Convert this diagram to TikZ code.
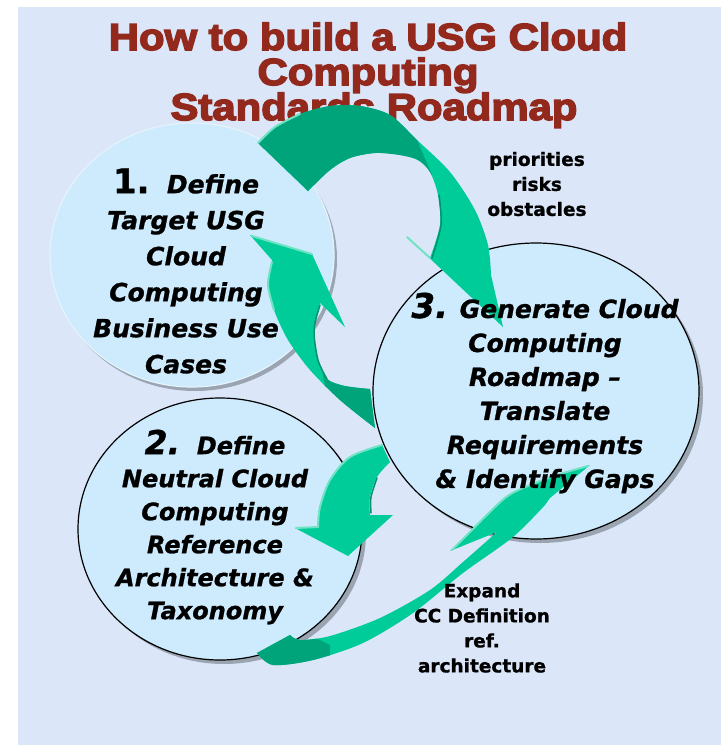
\documentclass[tikz,border=0pt]{standalone}
\usepackage{fontspec}
\setmainfont{DejaVu Sans}
\newfontfamily\stepfont[FakeBold=1]{DejaVu Sans}
\newfontfamily\titlefont[FakeStretch=1.11,FakeBold=4]{Liberation Sans}
\usetikzlibrary{shapes.geometric}

\definecolor{panel}{HTML}{DBE7F9}
\definecolor{titlered}{HTML}{93291D}
\definecolor{bubblefill}{HTML}{CDEBFC}
\definecolor{bubblerim}{HTML}{E4F3FD}
\definecolor{bubbleshade}{HTML}{9AA5B1}
\definecolor{greenlight}{HTML}{00CC99}
\definecolor{greendark}{HTML}{00A47A}
\definecolor{greenrim}{HTML}{6FE3C4}
\definecolor{greenedge}{HTML}{00936D}

\tikzset{
  bubble/.style={ellipse, fill=bubblefill, draw=black, line width=1.2pt, inner sep=0pt},
  bubbleshadow/.style={ellipse, fill=bubbleshade, inner sep=0pt},
  steptext/.style={align=center, inner sep=0pt},
  note/.style={align=center, inner sep=0pt, font=\stepfont\bfseries\fontsize{18.5}{25}\selectfont},
  titleline/.style={anchor=base, text=titlered, font=\titlefont\bfseries\fontsize{37.7}{35}\selectfont},
  swoosh/.style={fill=greenlight},
  swooshback/.style={fill=greendark},
  rim/.style={draw=greenrim, line width=2pt, line cap=round},
  crease/.style={draw=greenedge, line width=1.5pt, line cap=round},
}

% outlines of the four curved arrows (x right, y down)
\newcommand\outlineA{(258,143) -- plot[smooth] coordinates {(258,143) (275,127) (300,114) (330,106) (360,106) (390,115) (417,140) (450,172) (475,210) (488,245) (491,275)} -- (503,327) -- (407,237) -- (430,258) -- plot[smooth] coordinates {(430,258) (440,225) (438,195) (430,172) (418,160) (400,155) (375,153) (350,158) (330,170) (308,191)} -- cycle}
\newcommand\outlineB{(250,235) -- (312,254) -- (345,327) -- (320,303) -- plot[smooth] coordinates {(320,303) (314,330) (318,360) (327,379) (345,386) (370,389)} -- (375,428) -- plot[smooth] coordinates {(375,428) (340,400) (310,370) (288,340) (274,310) (268,285) (272,260)} -- cycle}
\newcommand\outlineC{(382,445) -- plot[smooth] coordinates {(382,445) (350,457) (330,480) (320,507) (318,527)} -- (295,528) -- (348,556) -- (393,515) -- (370,515) -- plot[smooth] coordinates {(370,515) (370,497) (377,477) (390,462)} -- cycle}
\newcommand\outlineD{(257,653) -- plot[smooth] coordinates {(257,653) (273,665) (313,660) (363,643) (413,613) (463,573) (513,537) (545,505)} -- (550,498) -- (590,465) -- plot[smooth] coordinates {(590,465) (560,474) (530,485) (505,498) (470,532)} -- (450,551) -- (497,532) -- plot[smooth] coordinates {(497,532) (463,562) (430,590) (380,618) (330,636) (300,640) (290,635)} -- cycle}

\begin{document}
\begin{tikzpicture}[x=1pt,y=-1pt]
  \useasboundingbox (0,0) rectangle (721,745);
  \fill[white] (0,0) rectangle (721,745);
  \fill[panel] (18,7) rectangle (721,745);

  % heading
  \node[titleline] (title1) at (368,50) {How to build a USG Cloud};
  \node[titleline] (title2) at (368,85) {Computing};
  \node[titleline] (title3) at (374,120) {Standards Roadmap};

  % the three steps
  \node[bubbleshadow, minimum width=284, minimum height=264] (step1shadow) at (195,259) {};
  \node[bubble, draw=bubblerim, minimum width=284, minimum height=264] (step1) at (192,255) {};
  \node[bubbleshadow, minimum width=284, minimum height=262] (step2shadow) at (224,533) {};
  \node[bubble, minimum width=284, minimum height=262] (step2) at (220,529) {};
  \node[bubbleshadow, minimum width=326, minimum height=296] (step3shadow) at (540,395) {};
  \node[bubble, minimum width=326, minimum height=296] (step3) at (536,391) {};

  \node[steptext, font=\stepfont\bfseries\itshape\fontsize{25}{36}\selectfont] (step1text) at (186,271)
    {{\upshape\fontsize{34}{36}\selectfont 1.}\ \ Define\\Target USG\\Cloud\\Computing\\Business Use\\Cases};

  % arrows between the steps
  \fill[swoosh] \outlineA;
  \begin{scope}
    \clip \outlineA;
    \fill[swooshback] (200,60) -- (387,70) -- (417,140) -- (432,175) -- (300,260) -- (200,260) -- cycle;
  \end{scope}
  \draw[rim] (258,143) -- plot[smooth] coordinates {(258,143) (275,127) (300,114)};
  \draw[rim] (407,237) -- (430,258);
  \draw[crease] (432,258) -- plot[smooth] coordinates {(432,258) (441,225) (439,195)};

  \fill[swoosh] \outlineB;
  \begin{scope}
    \clip \outlineB;
    \fill[swooshback] (322,370) -- (400,370) -- (400,440) -- (335,440) -- cycle;
  \end{scope}
  \draw[rim] (252,236) -- (312,254);
  \draw[rim] (272,262) -- plot[smooth] coordinates {(272,262) (268,285) (274,310)};
  \draw[crease] (320,305) -- plot[smooth] coordinates {(320,305) (314,330) (318,360) (327,379)};

  \fill[swoosh] \outlineC;
  \draw[rim] (382,445) -- plot[smooth] coordinates {(382,445) (350,457) (330,480) (320,507) (318,527)} -- (296,528);
  \draw[crease] (371,513) -- plot[smooth] coordinates {(371,513) (371,497) (377,478)};

  \fill[swoosh] \outlineD;
  \begin{scope}
    \clip \outlineD;
    \fill[swooshback] (240,620) -- (300,630) -- (330,645) -- (330,690) -- (240,690) -- cycle;
  \end{scope}
  \draw[rim] (452,550) -- plot[smooth] coordinates {(470,532) (505,498) (530,485) (560,474) (588,466)};

  \node[steptext, font=\stepfont\bfseries\itshape\fontsize{24}{33}\selectfont] (step2text) at (215,527)
    {{\fontsize{33}{33}\selectfont 2.}\ \ Define\\Neutral Cloud\\Computing\\Reference\\Architecture \&\\Taxonomy};
  \node[steptext, font=\stepfont\bfseries\itshape\fontsize{25}{34}\selectfont] (step3text) at (545,393)
    {{\fontsize{34}{34}\selectfont 3.} Generate Cloud\\Computing\\Roadmap –\\Translate\\Requirements\\\& Identify Gaps};

  % side notes
  \node[note] (risks) at (537,184) {priorities\\risks\\obstacles};
  \node[note] (expand) at (482,628) {Expand\\CC Definition\\ref.\\architecture};
\end{tikzpicture}
\end{document}
